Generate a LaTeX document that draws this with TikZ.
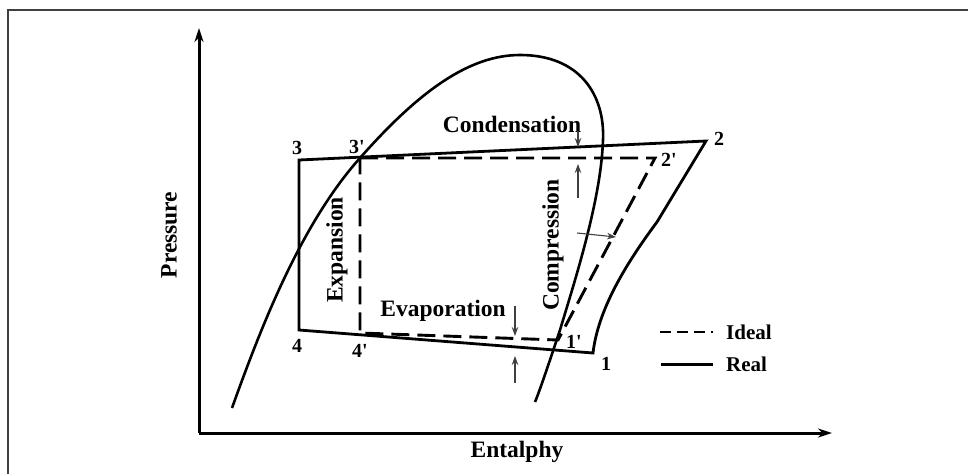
\documentclass[tikz,border=0pt]{standalone}
\usepackage{fontspec}
\setmainfont{Liberation Serif}
\usetikzlibrary{arrows.meta}
\newcommand{\pr}{\textquotesingle}
\begin{document}
\begin{tikzpicture}[x=1pt,y=-1pt,
  axis/.style={line width=3pt,-{Stealth[length=14pt,width=9pt]}},
  real/.style={line width=2.8pt,line join=miter},
  ideal/.style={line width=2.9pt,dash pattern=on 18pt off 8pt},
  dome/.style={line width=2.6pt},
  pointer/.style={line width=1.1pt,draw=black!75,-{Stealth[length=9pt,width=6.5pt]}},
  biglbl/.style={font=\fontsize{23.5}{26}\selectfont\bfseries,inner sep=0pt},
  numlbl/.style={font=\fontsize{20}{22}\selectfont\bfseries,inner sep=0pt},
  leglbl/.style={font=\fontsize{21}{24}\selectfont\bfseries,inner sep=0pt,anchor=west},
  framebox/.style={line width=1.5pt,draw=black!75}]
\useasboundingbox (0,0) rectangle (968,474);
% frame
\coordinate (fbl) at (8,474);
\coordinate (ftl) at (8,10);
\coordinate (ftr) at (968,10);
\draw[framebox] (fbl) -- (ftl) -- (ftr);
% axes
\coordinate (org) at (199,433);
\coordinate (ytop) at (199,28);
\coordinate (xend) at (832,433);
\draw[axis] (org) -- (ytop);
\draw[axis] (org) -- (xend);
\node[biglbl,rotate=90] (pres) at (169,235) {Pressure};
\node[biglbl] (enth) at (517,452) {Entalphy};
% dome
\coordinate (d0) at (232,408);
\coordinate (d1) at (360,158);
\coordinate (d2) at (520,55);
\coordinate (d3) at (603,140);
\coordinate (d4) at (560,330);
\coordinate (d5) at (535,402);
\draw[dome] (d0) .. controls (260,330) and (300,225) .. (d1)
  .. controls (420,90) and (470,55) .. (d2)
  .. controls (580,55) and (605,95) .. (d3)
  .. controls (601,200) and (575,280) .. (d4)
  .. controls (550,360) and (540,390) .. (d5);
% cycle points
\coordinate (p3) at (299,160);
\coordinate (p2) at (706,141);
\coordinate (p4) at (299,330);
\coordinate (p1) at (593,353);
\coordinate (p3i) at (360,158);
\coordinate (p2i) at (655,158);
\coordinate (p1i) at (558,340);
\coordinate (p4i) at (360,333);
\coordinate (pk) at (657,222);
% real cycle
\draw[real] (p2) -- (p3) -- (p4) -- (p1) .. controls (598,310) and (625,265) .. (pk) -- cycle;
% ideal cycle
\draw[ideal] (p3i) -- (p2i) -- (p1i) -- (p4i) -- cycle;
% labels of points
\node[numlbl] (l3) at (297,148) {3};
\node[numlbl] (l3i) at (357,147) {3\pr};
\node[numlbl] (l2) at (719,139) {2};
\node[numlbl] (l2i) at (669,160) {2\pr};
\node[numlbl] (l4) at (297,346) {4};
\node[numlbl] (l4i) at (360,351) {4\pr};
\node[numlbl] (l1i) at (574,342) {1\pr};
\node[numlbl] (l1) at (606,364) {1};
% process labels
\node[biglbl] (cond) at (512,124) {Condensation};
\node[biglbl] (evap) at (443,311) {Evaporation};
\node[biglbl,rotate=90] (expa) at (337,250) {Expansion};
\node[biglbl,rotate=90] (comp) at (553,245) {Compression};
% pointer arrows
\coordinate (a1s) at (578,131);
\coordinate (a1e) at (578,147);
\coordinate (a2s) at (578,198);
\coordinate (a2e) at (578,164);
\coordinate (a3s) at (577,233);
\coordinate (a3e) at (616,237);
\coordinate (a4s) at (515,306);
\coordinate (a4e) at (515,336);
\coordinate (a5s) at (515,383);
\coordinate (a5e) at (515,356);
\draw[pointer] (a1s) -- (a1e);
\draw[pointer] (a2s) -- (a2e);
\draw[pointer] (a3s) -- (a3e);
\draw[pointer] (a4s) -- (a4e);
\draw[pointer] (a5s) -- (a5e);
% legend
\coordinate (li1) at (660,332);
\coordinate (li2) at (713,332);
\coordinate (lr1) at (661,364);
\coordinate (lr2) at (713,364);
\draw[line width=2.8pt,dash pattern=on 11pt off 6pt] (li1) -- (li2);
\draw[line width=3pt] (lr1) -- (lr2);
\node[leglbl] (lid) at (726,332) {Ideal};
\node[leglbl] (lre) at (726,364) {Real};
\end{tikzpicture}
\end{document}
